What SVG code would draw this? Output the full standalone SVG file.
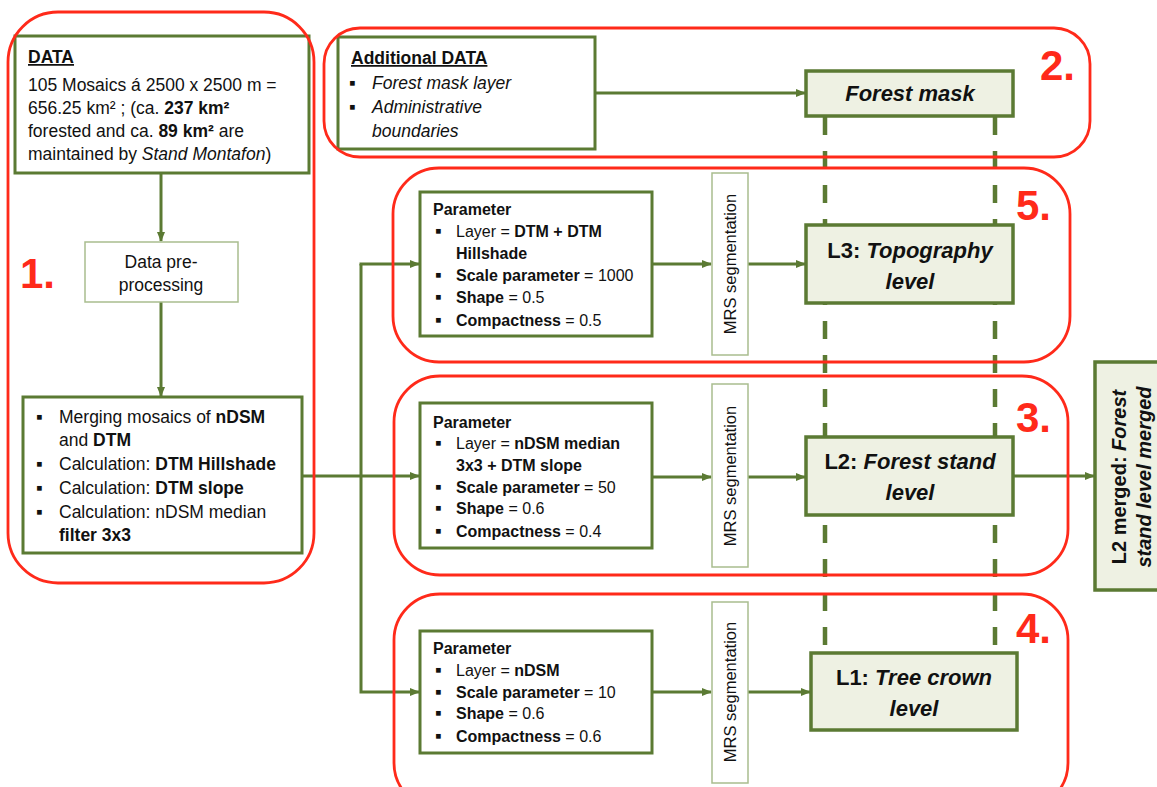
<svg xmlns="http://www.w3.org/2000/svg" width="1157" height="787" viewBox="0 0 1157 787">
<defs>
<marker id="ah" markerWidth="10" markerHeight="8" refX="9" refY="4" orient="auto" markerUnits="userSpaceOnUse">
<path d="M0,0 L10,4 L0,8 Z" fill="#5b7a33"/>
</marker>
<style>
text{font-family:"Liberation Sans",Arial,sans-serif;fill:#111}
.box{fill:#fff;stroke:#5b7a33;stroke-width:3}
.thin{fill:#fff;stroke:#a9bd8e;stroke-width:1.5}
.lvl{fill:#eef1e3;stroke:#5b7a33;stroke-width:3.5}
.con{fill:none;stroke:#5b7a33;stroke-width:3}
.dash{fill:none;stroke:#5b7a33;stroke-width:4.5;stroke-dasharray:18 16}
.reg{fill:none;stroke:#ff2a1a;stroke-width:2.8}
.num{font-size:42px;font-weight:bold;fill:#ff2a1a}
.t17{font-size:17.5px}
.t15{font-size:16px}
.bl{font-size:19px}
.b{font-weight:bold}
.i{font-style:italic}
.lv{font-size:22px;font-weight:bold;text-anchor:middle}
.mrs{font-size:16.5px;text-anchor:middle}
</style>
</defs>

<g id="connectors">
<line class="dash" x1="825" y1="117" x2="825" y2="653"/>
<line class="dash" x1="995" y1="117" x2="995" y2="653"/>
<line class="con" x1="161" y1="173" x2="161" y2="241" marker-end="url(#ah)"/>
<line class="con" x1="161" y1="302" x2="161" y2="396" marker-end="url(#ah)"/>
<line class="con" x1="302" y1="476" x2="419" y2="476" marker-end="url(#ah)"/>
<polyline class="con" points="361,264 361,692 419,692" marker-end="url(#ah)"/>
<line class="con" x1="359.5" y1="264" x2="419" y2="264" marker-end="url(#ah)"/>
<line class="con" x1="652" y1="264" x2="711" y2="264" marker-end="url(#ah)"/>
<line class="con" x1="652" y1="477" x2="711" y2="477" marker-end="url(#ah)"/>
<line class="con" x1="652" y1="692" x2="711" y2="692" marker-end="url(#ah)"/>
<line class="con" x1="748" y1="264" x2="805" y2="264" marker-end="url(#ah)"/>
<line class="con" x1="748" y1="477" x2="805" y2="477" marker-end="url(#ah)"/>
<line class="con" x1="748" y1="692" x2="810" y2="692" marker-end="url(#ah)"/>
<line class="con" x1="595" y1="93" x2="805" y2="93" marker-end="url(#ah)"/>
<line class="con" x1="1013" y1="476" x2="1094" y2="476" marker-end="url(#ah)"/>
</g>

<g id="data">
<rect class="box" x="15" y="36" width="294" height="137"/>
<text x="28" y="63" class="t17 b" text-decoration="underline">DATA</text>
<text x="28" y="91" class="t17">105 Mosaics á 2500 x 2500 m =</text>
<text x="28" y="114" class="t17">656.25 km² ; (ca. <tspan class="b">237 km²</tspan></text>
<text x="28" y="137" class="t17">forested and ca. <tspan class="b">89 km²</tspan> are</text>
<text x="28" y="160" class="t17">maintained by <tspan class="i">Stand Montafon</tspan>)</text>
</g>

<g id="preprocessing">
<rect class="thin" x="85" y="242" width="153" height="60"/>
<text x="161" y="268" class="t17" text-anchor="middle">Data pre-</text>
<text x="161" y="291" class="t17" text-anchor="middle">processing</text>
</g>

<g id="merging">
<rect class="box" x="23" y="397" width="279" height="156"/>
<g class="t17">
<text x="36" y="423" class="bl">▪</text><text x="59" y="423">Merging mosaics of <tspan class="b">nDSM</tspan></text>
<text x="59" y="446">and <tspan class="b">DTM</tspan></text>
<text x="36" y="470" class="bl">▪</text><text x="59" y="470">Calculation: <tspan class="b">DTM Hillshade</tspan></text>
<text x="36" y="494" class="bl">▪</text><text x="59" y="494">Calculation: <tspan class="b">DTM slope</tspan></text>
<text x="36" y="518" class="bl">▪</text><text x="59" y="518">Calculation: nDSM median</text>
<text x="59" y="541" class="b">filter 3x3</text>
</g>
</g>

<g id="additional">
<rect class="box" x="338" y="37" width="257" height="112"/>
<text x="351" y="64" class="t17 b" text-decoration="underline">Additional DATA</text>
<g class="t17 i">
<text x="349" y="89" class="bl" style="font-style:normal">▪</text><text x="372" y="89">Forest mask layer</text>
<text x="349" y="113" class="bl" style="font-style:normal">▪</text><text x="372" y="113">Administrative</text>
<text x="372" y="137">boundaries</text>
</g>
</g>

<g id="forestmask">
<rect class="lvl" x="806" y="71" width="207" height="45"/>
<text x="910" y="101" class="lv i">Forest mask</text>
</g>

<g id="param3">
<rect class="box" x="420" y="192" width="232" height="144"/>
<g class="t15">
<text x="433" y="215" class="b">Parameter</text>
<text x="435" y="237" class="bl">▪</text><text x="456" y="237">Layer = <tspan class="b">DTM + DTM</tspan></text>
<text x="456" y="259" class="b">Hillshade</text>
<text x="435" y="281" class="bl">▪</text><text x="456" y="281"><tspan class="b">Scale parameter</tspan> = 1000</text>
<text x="435" y="303" class="bl">▪</text><text x="456" y="303"><tspan class="b">Shape</tspan> = 0.5</text>
<text x="435" y="326" class="bl">▪</text><text x="456" y="326"><tspan class="b">Compactness</tspan> = 0.5</text>
</g>
</g>

<g id="param2">
<rect class="box" x="420" y="403" width="232" height="145"/>
<g class="t15">
<text x="433" y="428" class="b">Parameter</text>
<text x="435" y="449" class="bl">▪</text><text x="456" y="449">Layer = <tspan class="b">nDSM median</tspan></text>
<text x="456" y="471" class="b">3x3 + DTM slope</text>
<text x="435" y="493" class="bl">▪</text><text x="456" y="493"><tspan class="b">Scale parameter</tspan> = 50</text>
<text x="435" y="514" class="bl">▪</text><text x="456" y="514"><tspan class="b">Shape</tspan> = 0.6</text>
<text x="435" y="537" class="bl">▪</text><text x="456" y="537"><tspan class="b">Compactness</tspan> = 0.4</text>
</g>
</g>

<g id="param1">
<rect class="box" x="420" y="631" width="232" height="122"/>
<g class="t15">
<text x="433" y="654" class="b">Parameter</text>
<text x="435" y="676" class="bl">▪</text><text x="456" y="676">Layer = <tspan class="b">nDSM</tspan></text>
<text x="435" y="698" class="bl">▪</text><text x="456" y="698"><tspan class="b">Scale parameter</tspan> = 10</text>
<text x="435" y="719" class="bl">▪</text><text x="456" y="719"><tspan class="b">Shape</tspan> = 0.6</text>
<text x="435" y="742" class="bl">▪</text><text x="456" y="742"><tspan class="b">Compactness</tspan> = 0.6</text>
</g>
</g>

<g id="mrs3">
<rect class="thin" x="712" y="173" width="36" height="182"/>
<text transform="translate(736,264) rotate(-90)" class="mrs">MRS segmentation</text>
</g>
<g id="mrs2">
<rect class="thin" x="712" y="384" width="36" height="183"/>
<text transform="translate(736,476) rotate(-90)" class="mrs">MRS segmentation</text>
</g>
<g id="mrs1">
<rect class="thin" x="712" y="602" width="36" height="181"/>
<text transform="translate(736,692) rotate(-90)" class="mrs">MRS segmentation</text>
</g>

<g id="l3">
<rect class="lvl" x="806" y="225" width="207" height="78"/>
<text x="910" y="258" class="lv">L3: <tspan class="i">Topography</tspan></text>
<text x="910" y="289" class="lv i">level</text>
</g>
<g id="l2">
<rect class="lvl" x="806" y="437" width="207" height="78"/>
<text x="910" y="469" class="lv">L2: <tspan class="i">Forest stand</tspan></text>
<text x="910" y="500" class="lv i">level</text>
</g>
<g id="l1">
<rect class="lvl" x="811" y="653" width="206" height="77"/>
<text x="914" y="685" class="lv">L1: <tspan class="i">Tree crown</tspan></text>
<text x="914" y="716" class="lv i">level</text>
</g>

<g id="l2merged">
<rect class="lvl" x="1095" y="362" width="70" height="228"/>
<text transform="translate(1126,477) rotate(-90)" class="lv" style="font-size:20px">L2 merged: <tspan class="i">Forest</tspan></text>
<text transform="translate(1151,477) rotate(-90)" class="lv i" style="font-size:20px">stand level merged</text>
</g>

<g id="regions">
<rect class="reg" x="8" y="12" width="306" height="571" rx="50" ry="50"/>
<rect class="reg" x="324" y="28" width="766" height="129" rx="36" ry="36"/>
<rect class="reg" x="393" y="168" width="677" height="194" rx="46" ry="46"/>
<rect class="reg" x="394" y="376" width="674" height="199" rx="46" ry="46"/>
<rect class="reg" x="394" y="594" width="674" height="215" rx="46" ry="46"/>
<text x="20" y="288" class="num">1.</text>
<text x="1040" y="80" class="num">2.</text>
<text x="1016" y="220" class="num">5.</text>
<text x="1016" y="432" class="num">3.</text>
<text x="1016" y="643" class="num">4.</text>
</g>
</svg>
